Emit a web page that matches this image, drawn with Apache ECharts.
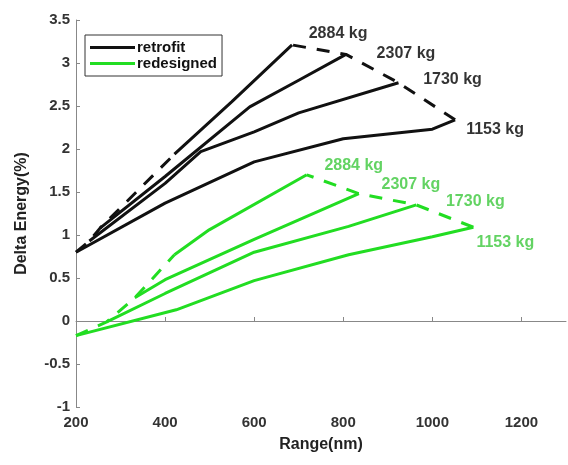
<!DOCTYPE html>
<html>
<head>
<meta charset="utf-8">
<script src="https://cdn.jsdelivr.net/npm/echarts@6/dist/echarts.min.js"></script>
<style>
  html, body { margin: 0; padding: 0; background: #fff; }
  #main { width: 568px; height: 465px; }
</style>
</head>
<body>
<div id="main"></div>
<script>
// mass labels, in the order the envelopes run through them
var massLabels = ['1153 kg', '1730 kg', '2307 kg', '2884 kg'];

// retrofit curves [range nm, delta energy %]
var retro1153 = [[200, 0.8], [400, 1.37], [600, 1.85], [800, 2.12], [1000, 2.23], [1051, 2.34]];
var retro1730 = [[230, 0.93], [400, 1.6], [480, 1.97], [600, 2.2], [700, 2.42], [924, 2.77]];
var retro2307 = [[254, 1.08], [400, 1.68], [590, 2.49], [700, 2.8], [806, 3.1]];
var retro2884 = [[421, 1.94], [550, 2.55], [685, 3.21]];

// redesigned curves
var redes1153 = [[200, -0.17], [425, 0.13], [600, 0.47], [812, 0.77], [1000, 0.98], [1092, 1.09]];
var redes1730 = [[269, -0.01], [400, 0.32], [600, 0.8], [812, 1.1], [964, 1.35]];
var redes2307 = [[332, 0.27], [400, 0.48], [600, 0.95], [835, 1.48]];
var redes2884 = [[421, 0.77], [499, 1.06], [718, 1.7]];

var xTicks = [200, 400, 600, 800, 1000, 1200];

drawChart();

function drawChart() {
    var myChart = echarts.init(document.getElementById('main'));
    var black = '#111111';
    var green = '#22dd22';
    var greenText = '#3cc83c';
    var font = 'Liberation Sans, Arial, sans-serif';

    var retro = [retro1153, retro1730, retro2307, retro2884];
    var redes = [redes1153, redes1730, redes2307, redes2884];

    // label offsets from each curve's end point
    var retroOffsets = [[40, 10], [54, -3], [60, -1], [46, -11]];
    var redesOffsets = [[32, 15], [59, -3], [52, -9], [47, -9]];

    function first(d) { return d[0]; }
    function last(d) { return d[d.length - 1]; }

    function solid(name, data, color) {
        return {
            name: name, type: 'line', data: data, symbol: 'none',
            lineStyle: { color: color, width: 3 }, itemStyle: { color: color },
            silent: true
        };
    }

    function envelope(name, pts, color) {
        return {
            name: name, type: 'line', symbol: 'none', data: pts,
            lineStyle: { color: color, width: 3, type: [13, 11] },
            itemStyle: { color: color },
            silent: true
        };
    }

    function labels(pts, offsets, textColor) {
        return {
            name: 'labels', type: 'scatter', symbolSize: 1, silent: true,
            itemStyle: { color: 'rgba(0,0,0,0)' },
            data: pts.map(function (p, i) {
                return {
                    value: p,
                    label: {
                        show: true, formatter: massLabels[i], position: 'inside',
                        offset: offsets[i], color: textColor, textBorderWidth: 0,
                        fontFamily: font, fontWeight: 'bold', fontSize: 16
                    }
                };
            })
        };
    }

    var series = [];
    redes.forEach(function (d) { series.push(solid('redesigned', d, green)); });
    series.push(envelope('redesigned', redes.map(first), green));
    series.push(envelope('redesigned', redes.map(last), green));
    retro.forEach(function (d) { series.push(solid('retrofit', d, black)); });
    series.push(envelope('retrofit', retro.map(first), black));
    series.push(envelope('retrofit', retro.map(last), black));
    series.push(labels(redes.map(last), redesOffsets, greenText));
    series.push(labels(retro.map(last), retroOffsets, '#000'));

    var option = {
        animation: false,
        backgroundColor: '#fff',
        grid: { left: 76, right: 2, top: 20, bottom: 58 },
        legend: {
            data: ['retrofit', 'redesigned'],
            orient: 'vertical', left: 85, top: 35,
            icon: 'rect', itemWidth: 45, itemHeight: 3, itemGap: 1,
            padding: [5, 5, 5, 5],
            backgroundColor: '#fff', borderColor: '#333', borderWidth: 1,
            textStyle: { fontFamily: font, fontWeight: 'bold', fontSize: 15, color: '#111', padding: [0, 0, 0, -3] }
        },
        xAxis: {
            type: 'value', min: 200, max: 1300, interval: 200,
            name: 'Range(nm)', nameLocation: 'middle', nameGap: 30,
            nameTextStyle: { fontFamily: font, fontWeight: 'bold', fontSize: 16, color: '#222' },
            axisLine: { lineStyle: { color: '#888' } },
            axisTick: { inside: true, length: 4, lineStyle: { color: '#888' } },
            axisLabel: {
                fontFamily: font, fontWeight: 'bold', fontSize: 15, color: '#333', margin: 8,
                showMaxLabel: false,
                formatter: function (v) { return xTicks.indexOf(v) >= 0 ? v : ''; }
            },
            splitLine: { show: false }
        },
        yAxis: {
            type: 'value', min: -1, max: 3.5, interval: 0.5,
            name: 'Delta Energy(%)', nameLocation: 'middle', nameGap: 46,
            nameTextStyle: { fontFamily: font, fontWeight: 'bold', fontSize: 16, color: '#222' },
            axisLine: { show: true, lineStyle: { color: '#888' } },
            axisTick: { show: true, inside: true, length: 4, lineStyle: { color: '#888' } },
            axisLabel: { fontFamily: font, fontWeight: 'bold', fontSize: 15, color: '#333', margin: 6 },
            splitLine: { show: false }
        },
        series: series
    };

    myChart.setOption(option);
}
</script>
</body>
</html>
